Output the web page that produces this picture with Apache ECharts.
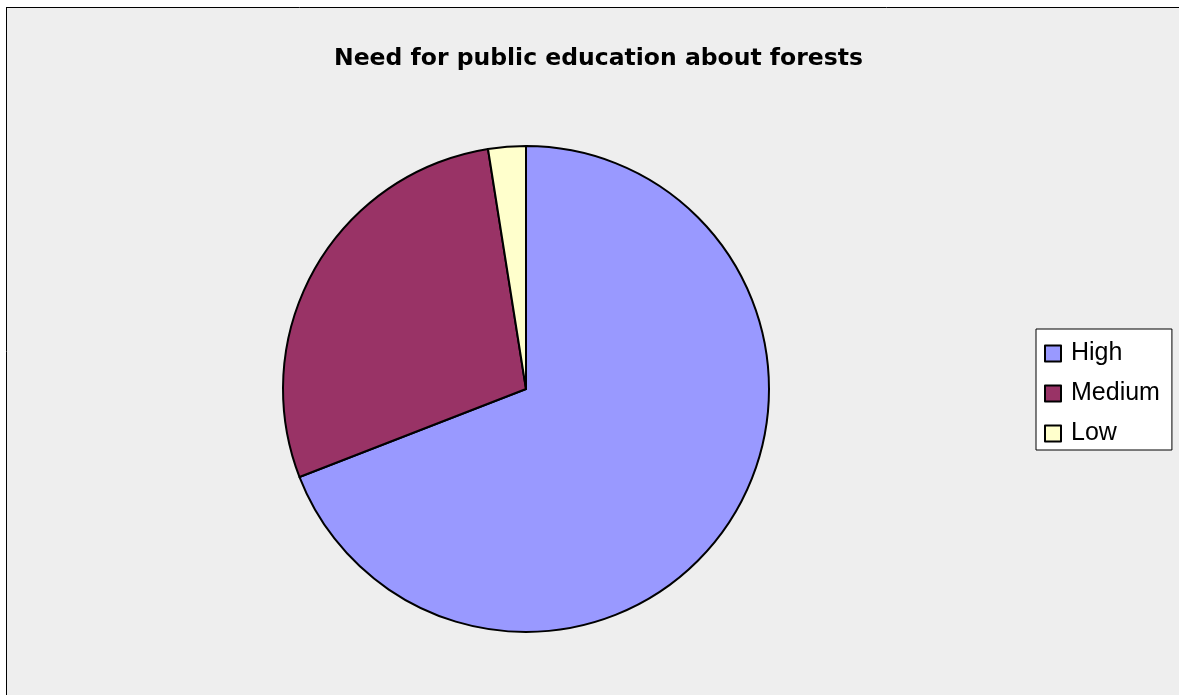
<!DOCTYPE html>
<html>
<head>
<meta charset="utf-8">
<script src="https://cdn.jsdelivr.net/npm/echarts@6/dist/echarts.min.js"></script>
<style>
  html, body { margin: 0; padding: 0; background: #ffffff; overflow: hidden; }
  #chart { width: 1179px; height: 695px; }
</style>
</head>
<body>
<div id="chart"></div>
<script>
// Survey shares (percent) for the perceived need for public education
const categories = ['High', 'Medium', 'Low'];
const shares = [69.1, 28.4, 2.5];
const sliceColors = ['#9999ff', '#993366', '#ffffcc'];

const chart = echarts.init(document.getElementById('chart'));

chart.setOption({
  animation: false,
  title: {
    text: 'Need for public education about forests',
    left: 329,
    top: 42,
    textStyle: {
      fontFamily: '"DejaVu Sans", Verdana, sans-serif',
      fontSize: 23.5,
      fontWeight: 'bold',
      color: '#000000'
    }
  },
  graphic: [
    {
      // chart area fill
      type: 'rect',
      z: -10,
      silent: true,
      shape: { x: 6, y: 7, width: 1400, height: 900 },
      style: { fill: '#eeeeee' }
    },
    {
      // frame: top edge
      type: 'line',
      z: -9,
      silent: true,
      shape: { x1: 6, y1: 7.5, x2: 1400, y2: 7.5 },
      style: { stroke: '#000000', lineWidth: 1 }
    },
    {
      // frame: left edge
      type: 'line',
      z: -9,
      silent: true,
      shape: { x1: 6.5, y1: 7, x2: 6.5, y2: 900 },
      style: { stroke: '#000000', lineWidth: 1 }
    }
  ],
  legend: {
    orient: 'vertical',
    left: 1036,
    top: 329,
    padding: [12, 12, 4, 8],
    backgroundColor: '#ffffff',
    borderColor: '#000000',
    borderWidth: 1,
    itemWidth: 16,
    itemHeight: 16,
    itemGap: 15,
    icon: 'rect',
    selectedMode: false,
    itemStyle: { borderColor: '#000000', borderWidth: 2 },
    textStyle: {
      fontFamily: 'Arial, "Liberation Sans", sans-serif',
      fontSize: 25,
      lineHeight: 24,
      color: '#000000',
      padding: [0, 0, 0, 5]
    },
    data: categories
  },
  series: [{
    type: 'pie',
    center: [526, 389],
    radius: [0, 243],
    startAngle: 90,
    clockwise: true,
    label: { show: false },
    labelLine: { show: false },
    emphasis: { disabled: true },
    itemStyle: { borderColor: '#000000', borderWidth: 2 },
    data: categories.map((name, i) => ({
      name: name,
      value: shares[i],
      itemStyle: { color: sliceColors[i] }
    }))
  }]
});
</script>
</body>
</html>
